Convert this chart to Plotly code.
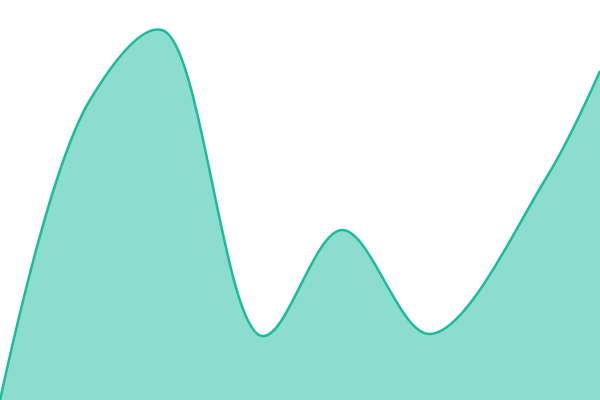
import plotly.graph_objects as go

# ------------ Data ------------

x_vals = [0, 90, 162, 262, 342, 430, 545, 600]
y_vals = [0, 300, 370, 64, 170, 66, 220, 329]

# ------------ Figure ------------

fig = go.Figure()
fig.add_trace(go.Scatter(
    x=x_vals, y=y_vals,
    mode='lines',
    line=dict(color='#1abc9c', width=2.5, shape='spline', smoothing=1.0),
    fill='tozeroy',
    fillcolor='rgba(26,188,156,0.5)',
    hoverinfo='skip',
))

fig.update_layout(
    width=600, height=400,
    margin=dict(l=0, r=0, t=0, b=0),
    paper_bgcolor='white', plot_bgcolor='white',
    showlegend=False,
    xaxis=dict(range=[0, 600], visible=False, fixedrange=True),
    yaxis=dict(range=[0, 400], visible=False, fixedrange=True),
)

# page body has a default 8px margin, drop it so the chart fills the window
fig.write_html("out.html", config={'displayModeBar': False},
               post_script="document.body.style.margin='0';document.body.style.overflow='hidden';")
